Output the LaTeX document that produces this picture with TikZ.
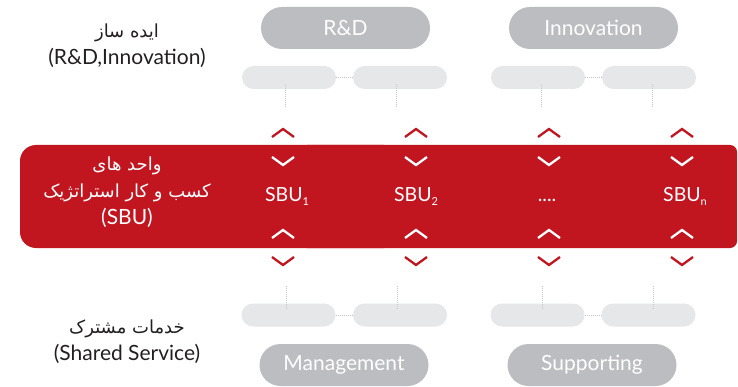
\documentclass[tikz,border=0pt]{standalone}
\usepackage{fontspec}
\setmainfont{Lato}
\newfontfamily\farsifont[Script=Arabic]{DejaVu Sans}
\TeXXeTstate=1
\definecolor{sbured}{HTML}{C1151F}
\definecolor{pillgray}{HTML}{BCBDC0}
\definecolor{pilllight}{HTML}{E6E7E8}
\definecolor{dotgray}{HTML}{C6C7C9}
\definecolor{ink}{HTML}{231F20}
\newcommand{\sub}[1]{{\fontsize{11}{11}\selectfont\raisebox{-4pt}{#1}}}
\newcommand{\farsi}[1]{{\farsifont\fontsize{18}{27}\selectfont\beginR #1\endR}}
\begin{document}
\begin{tikzpicture}[x=1pt,y=-1pt,
  bigpill/.style={fill=pillgray, rounded corners=21pt, minimum width=169pt,
    minimum height=42pt, text=white, font=\fontsize{21}{24}\selectfont, inner sep=0pt},
  smallpill/.style={fill=pilllight, rounded corners=11.5pt, minimum width=94pt,
    minimum height=23pt, inner sep=0pt},
  link/.style={draw=dotgray, line width=0.8pt, dash pattern=on 1pt off 1pt},
  chev/.style={line width=2.3pt, line cap=butt, line join=miter},
  sbu/.style={text=white, font=\fontsize{19.5}{22}\selectfont, anchor=base},
  sidetext/.style={align=center, font=\fontsize{21}{27}\selectfont, inner sep=0pt},
]
\useasboundingbox (0,0) rectangle (738,387);

% red band of the strategic business units
\fill[sbured, rounded corners=16pt] (20,145) rectangle (400,248);
\fill[sbured, rounded corners=7pt] (300,145) rectangle (737,248);

% idea makers on top
\node[bigpill] (rd) at (345.5,28) {R\&D};
\node[bigpill] (inno) at (593.5,28) {Innovation};
\node[smallpill] (t1) at (289,77.5) {};
\node[smallpill] (t2) at (400,77.5) {};
\node[smallpill] (t3) at (538,77.5) {};
\node[smallpill] (t4) at (649,77.5) {};
\draw[link] (t1.east) -- (t2.west);
\draw[link] (t3.east) -- (t4.west);
\foreach \n/\x in {1/285,2/396,3/541,4/652}{
  \coordinate (ta\n) at (\x,84);
  \coordinate (tb\n) at (\x,107);
  \draw[link] (ta\n) -- (tb\n);
}

% shared services at the bottom
\node[smallpill] (b1) at (288.5,315) {};
\node[smallpill] (b2) at (400,315) {};
\node[smallpill] (b3) at (537.5,315) {};
\node[smallpill] (b4) at (648.5,315) {};
\draw[link] (b1.east) -- (b2.west);
\draw[link] (b3.east) -- (b4.west);
\foreach \n/\x in {1/286,2/397,3/542,4/653}{
  \coordinate (ba\n) at (\x,286);
  \coordinate (bb\n) at (\x,310);
  \draw[link] (ba\n) -- (bb\n);
}
\node[bigpill] (mgmt) at (344,365) {Management};
\node[bigpill] (supp) at (592,365) {Supporting};

% chevrons above and below each unit
\foreach \x in {283,416,549,682}{
  \draw[chev, sbured] (\x-11,137) -- (\x,129) -- (\x+11,137);
  \draw[chev, white] (\x-11,157) -- (\x,165) -- (\x+11,157);
  \draw[chev, white] (\x-11,238) -- (\x,230) -- (\x+11,238);
  \draw[chev, sbured] (\x-11,257) -- (\x,265) -- (\x+11,257);
}

% unit labels
\node[sbu] (s1) at (287,202) {SBU\sub{1}};
\node[sbu] (s2) at (416,202) {SBU\sub{2}};
\node[sbu] (s3) at (547,202) {....};
\node[sbu] (s4) at (685,202) {SBU\sub{n}};

% row titles
\node[sidetext, text=ink] (ideas) at (127,46)
  {\farsi{ایده ساز}\\(R\&D,Innovation)};
\node[sidetext, text=white] (units) at (127,192)
  {\farsi{واحد های}\\\farsi{کسب و کار استراتژیک}\\(SBU)};
\node[sidetext, text=ink] (shared) at (127,342)
  {\farsi{خدمات مشترک}\\(Shared Service)};
\end{tikzpicture}
\end{document}
